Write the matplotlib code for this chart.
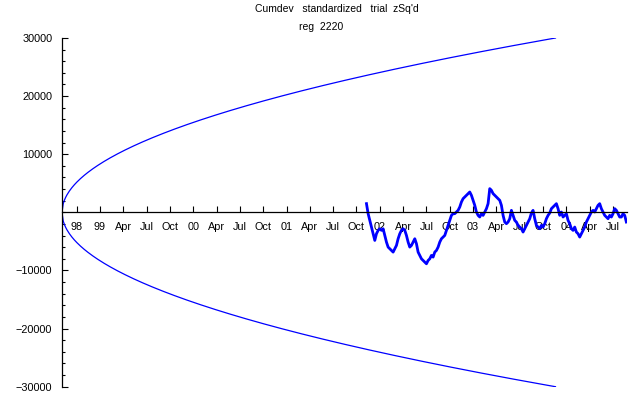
import numpy as np
import matplotlib
matplotlib.use('Agg')
import matplotlib.pyplot as plt

# Cumulative deviation, one reading about every 6.5 days (decimal years on x)
start_year = 2001.857
step_years = 0.01786
cumdev = [
    1500, -230, -1380, -2530, -3680, -4830, -3680, -3100, -2820, -3100,
    -2820, -3970, -5120, -5980, -6260, -6550, -6840, -6260, -5690, -4540,
    -3680, -3100, -2820, -3100, -3970, -5120, -5980, -5690, -5120, -4540,
    -5400, -6840, -7410, -7990, -8280, -8560, -8850, -8280, -7990, -7410,
    -7700, -6840, -6550, -5980, -5120, -4540, -4250, -3970, -3100, -2240,
    -1380, -520, -230, -230, 60, 350, 920, 1780, 2360, 2640,
    2930, 3220, 3500, 2930, 2070, 1210, 60, -520, -800, -230,
    -520, 60, 630, 1500, 4080, 3790, 3220, 2930, 2640, 2360,
    2070,
    1207, -517, -1667, -1954, -1667, -1092, 345, -517, -1379, -1667,
    -2241, -2529, -2816, -3390, -2816, -2241, -1667, -1092, -115, 345,
    -1092, -2241, -2529, -2816, -2241, -2529, -1954, -1092, -517, -115,
    632, 919, 1207, 1494, 632, -517,
    57, -805, -517, -230, -1379, -1954, -2816, -3103, -2529, -3390,
    -3678, -4253, -3678, -3103, -2529, -1667, -1092, -517, 57, 345,
    57, 632, 1207, 1494, 632, 57, -517, -805, -1092, -517,
    -805, -230, 632, 345, -230, -805, -805, -230, -517, -1667,
]

# 2-sigma style envelope: starts at the origin, ends at +/-30000
env_start = 1998.593
env_end = 2003.883
env_max = 30000

tick_pos = [1998.75 + 0.25 * k for k in range(24)]
tick_labels = ['98', '99', 'Apr', 'Jul', 'Oct', '00', 'Apr', 'Jul', 'Oct',
               '01', 'Apr', 'Jul', 'Oct', '02', 'Apr', 'Jul', 'Oct',
               '03', 'Apr', 'Jul', 'Oct', '04', 'Apr', 'Jul']

plt.rcParams['font.family'] = ['Liberation Sans', 'DejaVu Sans']

fig = plt.figure(figsize=(6.4, 3.95), dpi=100)
ax = fig.add_axes([62 / 640, 8.3 / 395, 565 / 640, 348.7 / 395])

t_env = np.linspace(env_start, env_end, 400)
env = env_max * np.sqrt((t_env - env_start) / (env_end - env_start))
ax.plot(t_env, env, color='#0000ff', lw=0.9)
ax.plot(t_env, -env, color='#0000ff', lw=0.9)

t = start_year + step_years * np.arange(len(cumdev))
ax.plot(t, cumdev, color='#0000ff', lw=2.0)

ax.set_xlim(env_start, 2004.65)
ax.set_ylim(-30000, 30000)

for s in ['top', 'right']:
    ax.spines[s].set_visible(False)
ax.spines['bottom'].set_position(('data', 0))
ax.spines['left'].set_linewidth(0.9)
ax.spines['bottom'].set_linewidth(0.9)

ax.set_xticks(tick_pos)
ax.set_xticklabels(tick_labels)
yt = [-30000, -20000, -10000, 10000, 20000, 30000]
ax.set_yticks(yt)
ax.set_yticklabels([str(v).replace('-', '\u2212') for v in yt])
ax.set_yticks(np.arange(-30000, 30001, 2000), minor=True)

ax.tick_params(axis='both', which='major', direction='in', length=4,
               width=0.8, labelsize=7.8)
ax.tick_params(axis='y', which='minor', direction='in', length=2.2, width=0.8)
ax.tick_params(axis='x', pad=7)
ax.tick_params(axis='y', pad=7)

fig.text(337 / 640, 1 - 9 / 395, "Cumdev   standardized   trial  zSq'd",
         ha='center', va='center', fontsize=7.5)
fig.text(321 / 640, 1 - 27 / 395, 'reg  2220', ha='center', va='center',
         fontsize=7.5)

plt.savefig('out.png', dpi=100)
